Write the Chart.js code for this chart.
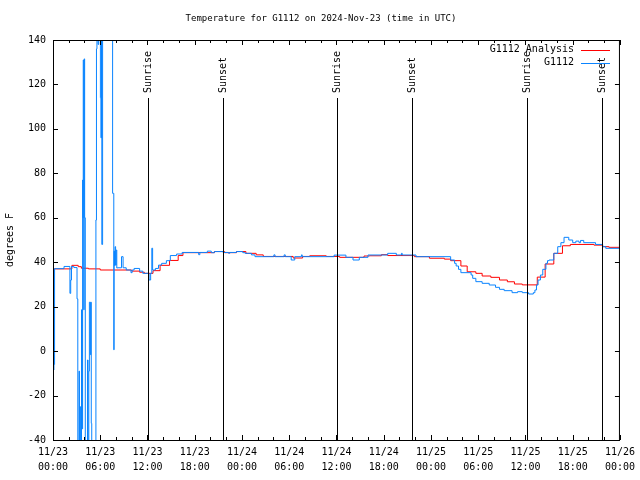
<!DOCTYPE html>
<html>
<head>
<meta charset="utf-8">
<script src="https://cdn.jsdelivr.net/npm/chart.js@4.4.1/dist/chart.umd.min.js"></script>
<style>
  html, body { margin: 0; padding: 0; background: #fff; }
  #wrap { width: 640px; height: 480px; }
</style>
</head>
<body>
<div id="wrap"><canvas id="tempChart" width="640" height="480"></canvas></div>
<script>
// hours since 11/23 00:00 UTC, value held until the next point
const analysisHours = [0, 2.4, 3.2, 3.6, 4.5, 6.0, 10.0, 11.0, 11.6, 12.7, 13.6, 14.8, 15.9, 16.5,
  20.5, 21.8, 23.3, 24.5, 25.8, 26.7, 30.5, 31.7, 32.6, 34.7, 36.4, 39.5, 40.2, 41.7, 42.5,
  45.9, 47.8, 49.7, 50.5, 51.8, 52.6, 53.7, 54.5, 55.6, 56.7, 57.7, 58.6, 59.6, 61.5, 62.5,
  63.6, 64.7, 65.7, 68.7, 69.8, 70.6, 72];
const analysisTemps = [37.0, 38.6, 38.0, 37.3, 37.0, 36.5, 36.0, 35.5, 35.0, 36.2, 38.6, 40.8, 43.0, 44.3,
  44.8, 44.3, 44.8, 44.0, 43.3, 42.6, 41.9, 42.6, 42.9, 42.6, 42.2, 42.8, 42.9, 43.4, 43.0,
  42.5, 41.8, 41.4, 40.7, 38.3, 35.7, 35.0, 33.8, 33.2, 32.0, 31.2, 30.2, 29.8, 33.3, 39.2,
  44.0, 47.4, 48.0, 47.7, 47.0, 46.7, 46.7];

const obsHours = [0.00, 0.12, 0.20, 1.40, 2.15, 2.25, 2.35, 2.65, 3.05, 3.15, 3.30, 3.36, 3.42, 3.48,
  3.62, 3.70, 3.76, 3.80, 3.84, 3.90, 3.96, 4.02, 4.10, 4.38, 4.45, 4.55, 4.62, 4.74, 4.80,
  4.86, 4.92, 5.45, 5.52, 5.58, 5.72, 5.80, 6.02, 6.08, 6.16, 6.20, 6.30, 7.57, 7.72, 7.76,
  7.82, 7.88, 7.95, 8.02, 8.10, 8.20, 8.70, 8.90, 9.30, 9.90, 10.05, 10.30, 11.00, 11.40,
  12.20, 12.40, 12.55, 12.65, 13.00, 13.40, 13.80, 14.40, 14.90, 15.70, 16.40, 18.50, 18.65,
  19.60, 20.10, 20.50, 21.60, 22.30, 22.45, 23.30, 24.10, 24.40, 25.20, 25.65, 28.05, 28.20,
  29.35, 29.50, 30.25, 30.70, 31.55, 31.65, 35.70, 37.20, 38.10, 38.90, 40.00, 42.50, 43.60,
  44.25, 44.35, 46.10, 50.50, 51.00, 51.20, 51.50, 51.80, 53.10, 53.30, 53.70, 54.50, 55.40,
  56.20, 56.70, 57.30, 58.30, 59.00, 59.60, 60.40, 61.00, 61.20, 61.40, 61.60, 61.90, 62.20,
  62.60, 62.80, 63.00, 63.60, 64.10, 64.50, 64.90, 65.50, 66.00, 66.40, 66.80, 67.00, 67.40,
  68.90, 69.80, 70.20, 72.00];
const obsTemps = [-8.5, -6.0, 37.1, 38.1, 26.0, 32.0, 38.1, 37.6, 23.5, -45, -9, -45, -25, -45,
  18.6, -35, 77, 60, 131, 18.6, 131.5, 60, -45, -4, -45, -9, 22, -1.6, 22,
  -32.5, -45, 59, 136, 150, 138, 150, 114, 96, 150, 48, 150, 71, 0.6, 45,
  38.5, 47, 38.7, 45.5, 37.4, 37.5, 42.5, 37.5, 36.5, 35.3, 36.5, 37.2, 36.0, 35.0,
  32.0, 35.0, 46.3, 36.5, 37.2, 38.7, 39.5, 40.7, 43.0, 43.7, 44.4, 43.4, 44.4,
  45.0, 44.3, 44.8, 44.4, 44.0, 44.4, 44.8, 44.3, 44.0, 43.3, 42.5, 43.3, 42.5,
  43.3, 42.5, 41.0, 42.5, 43.3, 42.5, 43.2, 42.2, 41.0, 42.2, 43.25, 44.0, 43.25,
  44.0, 43.25, 42.5, 41.0, 39.5, 38.3, 36.8, 35.3, 34.25, 32.75, 31.25, 30.5, 29.75,
  28.7, 27.8, 27.2, 26.3, 26.75, 26.3, 25.7, 26.3, 27.5, 29.75, 32.0, 34.25, 36.8,
  39.5, 40.7, 41.0, 44.0, 47.0, 48.8, 51.2, 50.0, 48.8, 49.5, 48.8, 49.8, 48.8,
  48.0, 47.0, 46.25, 46.3];

const sunEventHours = [12.05, 21.55, 36.13, 45.6, 60.2, 69.7];
const sunEventLabels = ['Sunrise', 'Sunset', 'Sunrise', 'Sunset', 'Sunrise', 'Sunset'];

const xTickDates = ['11/23', '11/23', '11/23', '11/23', '11/24', '11/24', '11/24', '11/24',
  '11/25', '11/25', '11/25', '11/25', '11/26'];
const xTickTimes = ['00:00', '06:00', '12:00', '18:00', '00:00', '06:00', '12:00', '18:00',
  '00:00', '06:00', '12:00', '18:00', '00:00'];

const monoFont = "'DejaVu Sans Mono', 'Liberation Mono', monospace";

function toPoints(xs, ys) {
  return xs.map((h, i) => ({ x: h, y: ys[i] }));
}

// frame, inward ticks, sunrise/sunset markers, legend and titles (gnuplot look)
const gnuplotDecor = {
  id: 'gnuplotDecor',
  afterDatasetsDraw(chart) {
    const { ctx, chartArea: a, scales: { x, y } } = chart;
    ctx.save();
    ctx.strokeStyle = '#000';
    ctx.fillStyle = '#000';
    ctx.lineWidth = 1;
    ctx.font = '10px ' + monoFont;

    // sunrise / sunset
    sunEventHours.forEach((h, i) => {
      const px = Math.round(x.getPixelForValue(h)) + 0.5;
      ctx.beginPath();
      ctx.moveTo(px, a.top + 58);
      ctx.lineTo(px, a.bottom);
      ctx.stroke();
      ctx.save();
      ctx.translate(px, a.top + 53);
      ctx.rotate(-Math.PI / 2);
      ctx.textAlign = 'left';
      ctx.textBaseline = 'middle';
      ctx.fillText(sunEventLabels[i], 0, 0);
      ctx.restore();
    });

    // border
    ctx.strokeRect(a.left + 0.5, a.top + 0.5, a.right - a.left - 1, a.bottom - a.top);

    // x ticks: major 6h, minor 2h, mirrored on top
    ctx.beginPath();
    for (let h = 0; h <= 72; h += 2) {
      const px = Math.round(x.getPixelForValue(h)) + 0.5;
      const len = h % 6 === 0 ? 5 : 3;
      ctx.moveTo(px, a.bottom); ctx.lineTo(px, a.bottom - len);
      ctx.moveTo(px, a.top); ctx.lineTo(px, a.top + len);
    }
    // y ticks, mirrored on right
    for (let v = -40; v <= 140; v += 20) {
      const py = Math.round(y.getPixelForValue(v)) + 0.5;
      ctx.moveTo(a.left, py); ctx.lineTo(a.left + 5, py);
      ctx.moveTo(a.right, py); ctx.lineTo(a.right - 5, py);
    }
    ctx.stroke();

    // legend
    const entries = chart.data.datasets;
    entries.forEach((ds, i) => {
      const ly = a.top + 9.5 + i * 13;
      ctx.textAlign = 'right';
      ctx.textBaseline = 'middle';
      ctx.fillText(ds.label, 574, ly);
      ctx.strokeStyle = ds.borderColor;
      ctx.beginPath();
      ctx.moveTo(581, Math.round(ly) + 0.5);
      ctx.lineTo(610, Math.round(ly) + 0.5);
      ctx.stroke();
    });

    // title and y-axis title
    ctx.textAlign = 'center';
    ctx.textBaseline = 'middle';
    ctx.font = '9px ' + monoFont;
    ctx.fillText('Temperature for G1112 on 2024-Nov-23 (time in UTC)', 321, 19);
    ctx.font = '10px ' + monoFont;
    ctx.save();
    ctx.translate(10, 240);
    ctx.rotate(-Math.PI / 2);
    ctx.fillText('degrees F', 0, 0);
    ctx.restore();
    ctx.restore();
  }
};

const ctx = document.getElementById('tempChart');
new Chart(ctx, {
  type: 'line',
  data: {
    datasets: [{
      label: 'G1112 Analysis',
      data: toPoints(analysisHours, analysisTemps),
      borderColor: '#ff0000',
      borderWidth: 1,
      stepped: 'before',
      pointRadius: 0,
      fill: false,
      order: 1
    }, {
      label: 'G1112',
      data: toPoints(obsHours, obsTemps),
      borderColor: '#0a84ff',
      borderWidth: 1,
      stepped: 'before',
      pointRadius: 0,
      fill: false,
      order: 0
    }]
  },
  options: {
    responsive: false,
    animation: false,
    layout: { padding: { left: 0, right: 19, top: 40, bottom: 0 } },
    scales: {
      x: {
        type: 'linear',
        min: 0,
        max: 72,
        afterFit: (s) => { s.height = 40; },
        grid: { display: false, drawTicks: false },
        border: { display: false },
        ticks: {
          stepSize: 6,
          autoSkip: false,
          maxRotation: 0,
          padding: 5,
          color: '#000',
          font: { family: monoFont, size: 10, lineHeight: 1.5 },
          callback: (value) => {
            const i = Math.round(value / 6);
            return [xTickDates[i], xTickTimes[i]];
          }
        }
      },
      y: {
        min: -40,
        max: 140,
        afterFit: (s) => { s.width = 53; },
        grid: { display: false, drawTicks: false },
        border: { display: false },
        ticks: {
          stepSize: 20,
          padding: 7,
          color: '#000',
          font: { family: monoFont, size: 10 }
        }
      }
    },
    plugins: {
      legend: { display: false },
      tooltip: { enabled: false }
    }
  },
  plugins: [gnuplotDecor]
});
</script>
</body>
</html>
